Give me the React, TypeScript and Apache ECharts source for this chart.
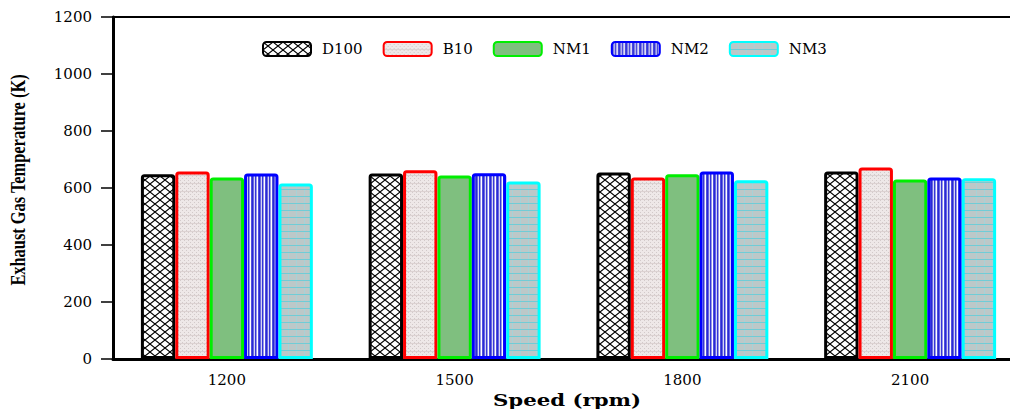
import React, { useEffect, useRef } from "react";
import * as echarts from "echarts";

const categories = ["1200", "1500", "1800", "2100"];
const seriesNames = ["D100", "B10", "NM1", "NM2", "NM3"];
const d100 = [648, 651, 654, 658];
const b10 = [658, 662, 637, 672];
const nm1 = [637, 644, 648, 630];
const nm2 = [651, 652, 658, 637];
const nm3 = [616, 623, 627, 634];
const yTicks = [0, 200, 400, 600, 800, 1000, 1200];

function tile(w: number, h: number, draw: (ctx: CanvasRenderingContext2D) => void) {
  const c = document.createElement("canvas");
  c.width = w;
  c.height = h;
  const ctx = c.getContext("2d") as CanvasRenderingContext2D;
  draw(ctx);
  return c;
}

function makePatterns() {
  const cross = tile(10, 8, (ctx) => {
    ctx.fillStyle = "#ffffff";
    ctx.fillRect(0, 0, 10, 8);
    ctx.strokeStyle = "#000000";
    ctx.lineWidth = 1.1;
    for (const dx of [-10, 0, 10]) {
      ctx.beginPath();
      ctx.moveTo(dx, 0);
      ctx.lineTo(dx + 10, 8);
      ctx.moveTo(dx + 10, 0);
      ctx.lineTo(dx, 8);
      ctx.stroke();
    }
  });
  const dots = tile(4, 8, (ctx) => {
    ctx.fillStyle = "#eee8e8";
    ctx.fillRect(0, 0, 4, 8);
    ctx.fillStyle = "#d2caca";
    ctx.fillRect(0, 0, 1, 1);
    ctx.fillRect(2, 2, 1, 1);
    ctx.fillRect(0, 4, 1, 1);
    ctx.fillRect(2, 6, 1, 1);
    ctx.fillStyle = "#dcd2d2";
    ctx.fillRect(0, 7, 4, 1);
  });
  const stripes = tile(7, 2, (ctx) => {
    const cols = ["#2a2ad6", "#6a6ae0", "#d4d4f4", "#3636d8", "#9a9ae8", "#ffffff", "#5050dc"];
    cols.forEach((c, i) => {
      ctx.fillStyle = c;
      ctx.fillRect(i, 0, 1, 2);
    });
  });
  const grid = tile(8, 7, (ctx) => {
    ctx.fillStyle = "#bcc8c8";
    ctx.fillRect(0, 0, 8, 7);
    ctx.fillStyle = "#a8d2d6";
    ctx.fillRect(0, 0, 1, 7);
    ctx.fillStyle = "#70ccd6";
    ctx.fillRect(0, 0, 8, 1);
  });
  return { cross, dots, stripes, grid };
}

export default function App() {
  const ref = useRef<HTMLDivElement>(null);
  useEffect(() => {
    if (!ref.current) return;
    const chart = echarts.init(ref.current, null, { renderer: "svg" });
    const p = makePatterns();
    const values = [d100, b10, nm1, nm2, nm3];
    const fills: any[] = [
      { image: p.cross, repeat: "repeat" },
      { image: p.dots, repeat: "repeat" },
      "#7fbf7f",
      { image: p.stripes, repeat: "repeat" },
      { image: p.grid, repeat: "repeat" },
    ];
    const borders = ["#000000", "#ff0000", "#00ee00", "#0000ff", "#00ffff"];
    const serif = "DejaVu Serif";
    chart.setOption({
      animation: false,
      backgroundColor: "#ffffff",
      legend: {
        left: 257,
        top: 36,
        itemWidth: 48,
        itemHeight: 14,
        itemGap: 20,
        data: seriesNames,
        textStyle: { fontFamily: serif, fontSize: 15, color: "#000", padding: [0, 0, 0, 6] },
      },
      grid: { left: 113, top: 17, right: 6, bottom: 50, containLabel: false },
      xAxis: [
        {
          type: "category",
          data: categories,
          axisLine: { lineStyle: { color: "#000", width: 3 } },
          axisTick: { alignWithLabel: true, length: 6, lineStyle: { color: "#000", width: 1.5 } },
          axisLabel: { fontFamily: serif, fontSize: 15, color: "#000", margin: 13 },
        },
        {
          type: "category",
          position: "top",
          data: categories,
          axisLine: { lineStyle: { color: "#000", width: 2 } },
          axisTick: { show: false },
          axisLabel: { show: false },
        },
      ],
      yAxis: {
        type: "value",
        min: yTicks[0],
        max: yTicks[yTicks.length - 1],
        interval: 200,
        axisLine: { show: true, lineStyle: { color: "#000", width: 3 } },
        axisTick: { show: true, length: 12, lineStyle: { color: "#000", width: 1.5 } },
        splitLine: { show: false },
        axisLabel: {
          fontFamily: serif,
          fontSize: 15,
          color: "#000",
          margin: 21,
          formatter: (v: number) => String(v),
        },
      },
      graphic: [
        {
          type: "text",
          x: 18,
          y: 180,
          rotation: Math.PI / 2,
          scaleX: 0.78,
          style: {
            text: "Exhaust Gas Temperature (K)",
            font: "bold 21px 'Liberation Serif'",
            fill: "#000",
            align: "center",
            verticalAlign: "middle",
          },
        },
        {
          type: "text",
          x: 567,
          y: 400,
          scaleX: 1.25,
          style: {
            text: "Speed (rpm)",
            font: "bold 17px 'DejaVu Serif'",
            fill: "#000",
            align: "center",
            verticalAlign: "middle",
          },
        },
      ],
      series: seriesNames.map((name, i) => ({
        name,
        type: "bar",
        data: values[i],
        barGap: "0%",
        barCategoryGap: "24.5%",
        itemStyle: {
          color: fills[i],
          borderColor: borders[i],
          borderWidth: 3,
          borderRadius: [2, 2, 0, 0],
        },
      })),
    });
    return () => chart.dispose();
  }, []);
  return <div ref={ref} style={{ position: "fixed", left: 0, top: 0, width: 1030, height: 409 }} />;
}
